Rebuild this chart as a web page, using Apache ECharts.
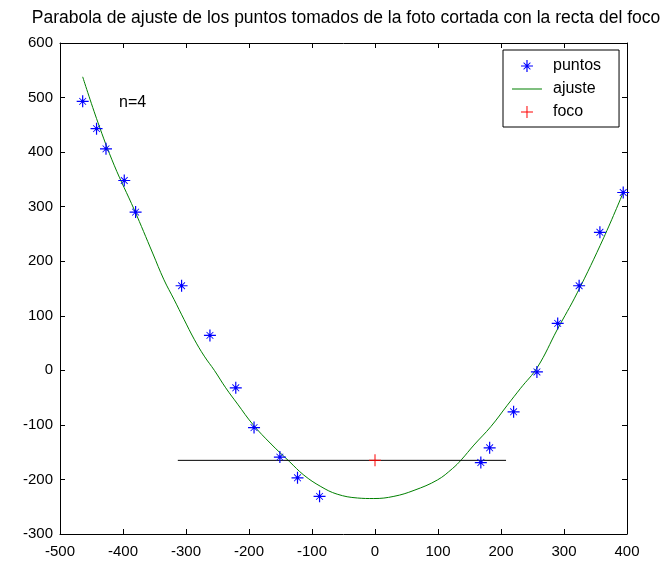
<!DOCTYPE html>
<html>
<head>
<meta charset="utf-8">
<script src="https://cdn.jsdelivr.net/npm/echarts@6/dist/echarts.min.js"></script>
<style>html,body{margin:0;padding:0;background:#fff;}#c{width:663px;height:561px;}</style>
</head>
<body>
<div id="c"></div>
<script>
// Measured points (puntos)
const ptsX = [-464,-442,-427,-398,-380,-307,-262,-221,-192,-151,-123,-88,168,182,220,257,290,324,357,394];
const ptsY = [493,443,406,348,290,155,64,-32,-105,-159,-197,-231,-169,-142,-76,-3,86,155,253,326];
// Fitted curve (ajuste)
const fitX = [-464,-440,-414,-382,-353,-335,-319,-303,-287,-271,-255,-237,-218,-194,-165,-136,-113,-86,-60,-28,-2,30,62,99,123,137,157,184,210,231,258,289,321,363,394];
const fitY = [538,455,376,294,215,166,130,93,57,26,0,-32,-62,-99,-135,-167,-192,-213,-227,-234,-235,-231,-220,-201,-180,-164,-137,-103,-64,-33,6,74,142,243,326];
// Focus (foco) and the focus line
const focoX = [0];
const focoY = [-165];
const rectaX = [-313,208];
const rectaY = [-165,-165];
// Axis ticks
const xTicks = [-500,-400,-300,-200,-100,0,100,200,300,400];
const yTicks = [-300,-200,-100,0,100,200,300,400,500,600];

const zip = (a,b) => a.map((v,i) => [v,b[i]]);

const starPath = 'path://M0,5.4H12V6.6H0Z M5.4,0H6.6V12H5.4Z M2.9,2.3L9.7,9.1L9.1,9.7L2.3,2.9Z M9.1,2.3L9.7,2.9L2.9,9.7L2.3,9.1Z M4.5,4.5H7.5V7.5H4.5Z';
const plusPath = 'path://M0,5.5H12V6.5H0Z M5.5,0H6.5V12H5.5Z';
// legend icons in a 30x12 box
const pad = 'M0,0h0.01v0.01h-0.01Z M30,12h0.01v0.01h-0.01Z ';
const starIcon = 'path://' + pad + 'M9,5.4H21V6.6H9Z M14.4,0H15.6V12H14.4Z M11.9,2.3L18.7,9.1L18.1,9.7L11.3,2.9Z M18.1,2.3L18.7,2.9L11.9,9.7L11.3,9.1Z M13.5,4.5H16.5V7.5H13.5Z';
const lineIcon = 'path://' + pad + 'M0,5.5H30V6.6H0Z';
const plusIcon = 'path://' + pad + 'M9,5.5H21V6.5H9Z M14.5,0H15.5V12H14.5Z';

const FONT = 'Liberation Sans';
const axisCommon = {
  type: 'value',
  interval: 100,
  axisLine: {show: true, onZero: false, lineStyle: {color: '#000', width: 1}},
  axisTick: {show: true, inside: true, length: 5, lineStyle: {color: '#000'}},
  splitLine: {show: false},
};

const chart = echarts.init(document.getElementById('c'));
chart.setOption({
  animation: false,
  backgroundColor: '#fff',
  title: {
    text: 'Parabola de ajuste de los puntos tomados de la foto cortada con la recta del foco',
    left: 346, top: 9, textAlign: 'center', padding: 0,
    textStyle: {fontFamily: FONT, fontSize: 17.5, fontWeight: 'normal', color: '#000'}
  },
  grid: {left: 60, right: 36, top: 43, bottom: 27, containLabel: false},
  xAxis: [
    Object.assign({}, axisCommon, {min: xTicks[0], max: xTicks[xTicks.length-1], position: 'bottom',
      axisLabel: {color: '#000', fontFamily: FONT, fontSize: 15, margin: 10}}),
    Object.assign({}, axisCommon, {min: xTicks[0], max: xTicks[xTicks.length-1], position: 'top',
      axisLabel: {show: false}})
  ],
  yAxis: [
    Object.assign({}, axisCommon, {min: yTicks[0], max: yTicks[yTicks.length-1], position: 'left',
      axisLabel: {color: '#000', fontFamily: FONT, fontSize: 15, margin: 7}}),
    Object.assign({}, axisCommon, {min: yTicks[0], max: yTicks[yTicks.length-1], position: 'right',
      axisLabel: {show: false}})
  ],
  legend: {
    left: 503, top: 50, orient: 'vertical',
    padding: [8, 18, 7, 9], itemGap: 7, itemWidth: 30, itemHeight: 12,
    backgroundColor: '#fff', borderColor: '#000', borderWidth: 1,
    textStyle: {fontFamily: FONT, fontSize: 16, color: '#000', padding: [0,0,0,6]},
    selectedMode: false,
    data: [
      {name: 'puntos', icon: starIcon},
      {name: 'ajuste', icon: lineIcon},
      {name: 'foco', icon: plusIcon}
    ]
  },
  graphic: [{
    type: 'text', left: 119, top: 95,
    style: {text: 'n=4', fontFamily: FONT, fontSize: 16, fill: '#000'}
  }],
  series: [
    {
      name: 'ajuste', type: 'line', data: zip(fitX, fitY), smooth: 0.4,
      showSymbol: false, symbol: 'none',
      lineStyle: {color: '#008000', width: 1}, itemStyle: {color: '#008000'}, z: 2
    },
    {
      name: 'recta', type: 'line', data: zip(rectaX, rectaY), showSymbol: false, symbol: 'none',
      lineStyle: {color: '#000', width: 1}, z: 3
    },
    {
      name: 'puntos', type: 'scatter', data: zip(ptsX, ptsY),
      symbol: starPath, symbolSize: 12, symbolKeepAspect: true,
      itemStyle: {color: '#0000ff', opacity: 1}, z: 4
    },
    {
      name: 'foco', type: 'scatter', data: zip(focoX, focoY),
      symbol: plusPath, symbolSize: 12, symbolKeepAspect: true,
      itemStyle: {color: '#ff0000', opacity: 1}, z: 5
    }
  ]
});
</script>
</body>
</html>
